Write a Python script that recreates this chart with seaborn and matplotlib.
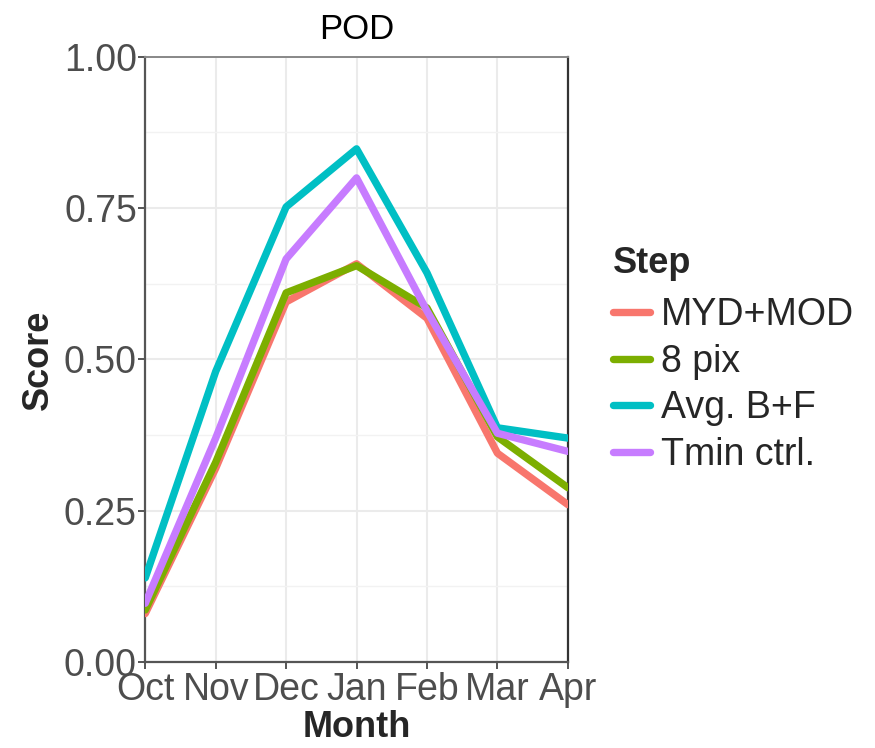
import matplotlib
matplotlib.use("Agg")
import matplotlib.pyplot as plt
import seaborn as sns
import pandas as pd
from matplotlib.ticker import MultipleLocator, FormatStrFormatter

months = ["Oct", "Nov", "Dec", "Jan", "Feb", "Mar", "Apr"]
steps = ["MYD+MOD", "8 pix", "Avg. B+F", "Tmin ctrl."]
myd_mod = [0.080, 0.320, 0.595, 0.658, 0.568, 0.345, 0.260]
pix8 = [0.086, 0.330, 0.610, 0.655, 0.585, 0.372, 0.288]
avg_bf = [0.139, 0.480, 0.752, 0.848, 0.643, 0.387, 0.370]
tmin = [0.097, 0.370, 0.666, 0.800, 0.580, 0.378, 0.348]
colors = ["#F8766D", "#7CAE00", "#00BFC4", "#C77CFF"]

rows = []
for s, vals in zip(steps, [myd_mod, pix8, avg_bf, tmin]):
    for m, v in zip(months, vals):
        rows.append({"Month": m, "Score": v, "Step": s})
df = pd.DataFrame(rows)

sns.set_theme(style="white")
plt.rcParams["font.family"] = ["Liberation Sans", "DejaVu Sans"]

fig = plt.figure(figsize=(8.75, 7.48), dpi=100)
ax = fig.add_axes([0.166, 0.115, 0.483, 0.809])

sns.lineplot(data=df, x="Month", y="Score", hue="Step", hue_order=steps,
             palette=colors, linewidth=5.3, sort=False, ax=ax, zorder=3)

ax.set_xlim(0, 6)
ax.set_ylim(0, 1)
ax.yaxis.set_major_locator(MultipleLocator(0.25))
ax.yaxis.set_minor_locator(MultipleLocator(0.125))
ax.yaxis.set_major_formatter(FormatStrFormatter("%.2f"))
ax.set_xticks(range(len(months)))
ax.set_xticklabels(months)

ax.grid(True, which="major", color="#EBEBEB", linewidth=1.5, zorder=0)
ax.grid(True, which="minor", axis="y", color="#F2F2F2", linewidth=1.0, zorder=0)
ax.set_axisbelow(True)

for side in ["left", "bottom"]:
    ax.spines[side].set_color("#555555")
    ax.spines[side].set_linewidth(1.6)
ax.spines["top"].set_color("#888888")
ax.spines["top"].set_linewidth(1.4)
ax.spines["right"].set_color("#333333")
ax.spines["right"].set_linewidth(1.6)

ax.tick_params(axis="both", which="major", direction="out", length=5, width=1.4,
               color="#555555", labelsize=27, labelcolor="#4D4D4D", pad=1,
               left=True, bottom=True)
ax.tick_params(axis="x", which="major", pad=2)
ax.tick_params(axis="both", which="minor", length=0)

ax.set_title("POD", fontsize=25, color="black", pad=13)
ax.set_xlabel("Month", fontsize=26, fontweight="bold", labelpad=2)
ax.set_ylabel("Score", fontsize=26, fontweight="bold", labelpad=6)

leg = ax.legend(title="Step", loc="center left", bbox_to_anchor=(1.106, 0.5),
                frameon=False, fontsize=27, title_fontsize=26,
                handlelength=1.0, handletextpad=0.28, labelspacing=0.28,
                borderaxespad=0, borderpad=0)
leg.get_title().set_fontweight("bold")
leg._legend_box.align = "left"
leg._legend_box.sep = 12
for line in leg.get_lines():
    line.set_linewidth(5.3)

fig.savefig("out.png", dpi=100)
